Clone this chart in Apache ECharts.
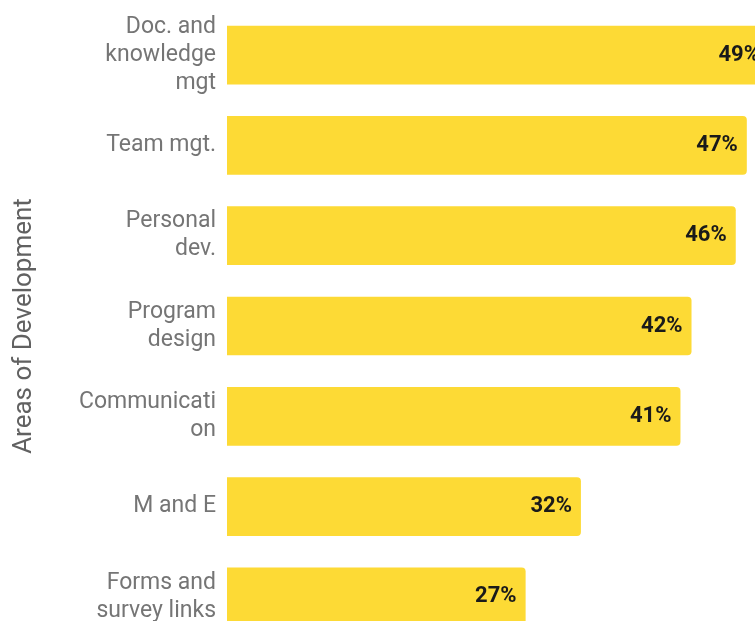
<!DOCTYPE html>
<html>
<head>
<meta charset="utf-8">
<script src="https://cdn.jsdelivr.net/npm/echarts@6/dist/echarts.min.js"></script>
<style>
html,body{margin:0;padding:0;background:#fff;}
#chart{width:755px;height:621px;}
</style>
</head>
<body>
<div id="chart"></div>
<script>
// Areas of development and the share of respondents for each
const categories = [
  'Doc. and\nknowledge\nmgt',
  'Team mgt.',
  'Personal\ndev.',
  'Program\ndesign',
  'Communicati\non',
  'M and E',
  'Forms and\nsurvey links'
];
const shares = [49, 47, 46, 42, 41, 32, 27];
const axisTitle = 'Areas of Development';

const chart = echarts.init(document.getElementById('chart'), null, { renderer: 'canvas' });
chart.setOption({
  animation: false,
  textStyle: { fontFamily: 'Roboto' },
  grid: {
    left: 227, right: -25, top: 10, bottom: -21,
    containLabel: false,
    outerBoundsMode: 'none'
  },
  xAxis: {
    type: 'value',
    min: 0,
    max: 50,
    show: false,
    splitLine: { show: false }
  },
  yAxis: {
    type: 'category',
    data: categories,
    inverse: true,
    name: axisTitle,
    nameLocation: 'middle',
    nameGap: 190,
    nameTextStyle: { fontFamily: 'Roboto', fontSize: 26, color: '#616161' },
    axisLine: { show: false },
    axisTick: { show: false },
    axisLabel: {
      margin: 11,
      fontFamily: 'Roboto',
      fontSize: 23,
      lineHeight: 28,
      color: '#757575',
      align: 'right'
    }
  },
  series: [{
    type: 'bar',
    data: shares,
    barWidth: '65%',
    itemStyle: { color: '#FDDA35', borderRadius: [0, 4, 4, 0] },
    label: {
      show: true,
      position: 'insideRight',
      distance: 9,
      formatter: '{c}%',
      fontFamily: 'Roboto',
      fontWeight: 'bold',
      fontSize: 22,
      color: '#1a1a1a'
    }
  }]
});
</script>
</body>
</html>
